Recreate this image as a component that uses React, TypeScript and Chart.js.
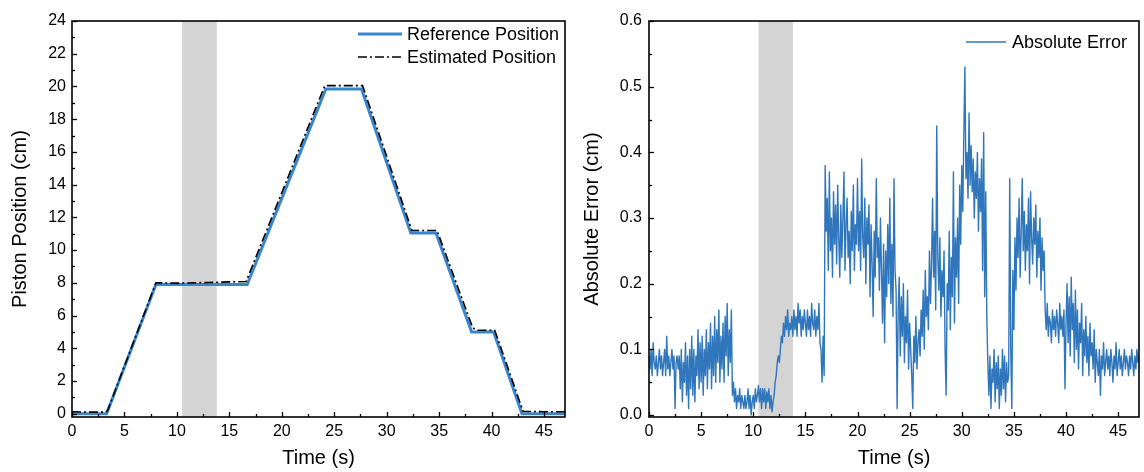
import React, { useEffect, useRef } from "react";
import { Chart, registerables } from "chart.js";

Chart.register(...registerables);

// ---------- Data ----------
const refTime = [0, 3.3, 8.0, 16.7, 24.2, 27.6, 32.3, 34.7, 38.1, 40.2, 42.9, 47];
const refPos = [0, 0, 7.9, 7.9, 19.85, 19.85, 11.05, 11.05, 5.0, 5.0, 0, 0];

const estTime = [0, 1.5, 3.2, 3.4, 8.0, 10.0, 13.0, 16.6, 24.1, 26.0, 27.7, 32.4, 34.8, 38.2, 38.6, 40.3, 43.0, 45.0, 47];
const estPos = [0.12, 0.1, 0.1, 0.2, 8.0, 7.98, 8.02, 8.08, 20.05, 20.05, 20.05, 11.2, 11.2, 5.25, 5.1, 5.1, 0.15, 0.12, 0.12];

const errorSampleInterval = 0.1; // s
const absError = [
  0.09, 0.07, 0.10, 0.06, 0.11, 0.08, 0.07, 0.09, 0.06, 0.08,
  0.10, 0.07, 0.09, 0.06, 0.08, 0.10, 0.06, 0.12, 0.07, 0.09,
  0.06, 0.08, 0.10, 0.07, 0.09, 0.01, 0.08, 0.09, 0.07, 0.09,
  0.04, 0.10, 0.02, 0.08, 0.05, 0.11, 0.03, 0.09, 0.01, 0.10,
  0.04, 0.12, 0.03, 0.10, 0.02, 0.09, 0.06, 0.13, 0.04, 0.11,
  0.05, 0.12, 0.03, 0.10, 0.06, 0.13, 0.04, 0.11, 0.07, 0.14,
  0.04, 0.12, 0.06, 0.15, 0.05, 0.13, 0.08, 0.16, 0.05, 0.12,
  0.07, 0.14, 0.05, 0.15, 0.09, 0.17, 0.06, 0.13, 0.08, 0.16,
  0.03, 0.05, 0.02, 0.04, 0.01, 0.03, 0.02, 0.04, 0.01, 0.03,
  0.02, 0.01, 0.03, 0.01, 0.02, 0.04, 0.01, 0.03, 0.00, 0.02,
  0.03, 0.01, 0.04, 0.02, 0.03, 0.045, 0.02, 0.04, 0.01, 0.04,
  0.02, 0.04, 0.01, 0.035, 0.02, 0.04, 0.01, 0.03, 0.005, 0.02,
  0.03, 0.05, 0.06, 0.08, 0.09, 0.08, 0.10, 0.12, 0.11, 0.14,
  0.12, 0.15, 0.13, 0.16, 0.12, 0.14, 0.13, 0.15, 0.12, 0.16,
  0.13, 0.15, 0.12, 0.17, 0.14, 0.16, 0.12, 0.15, 0.13, 0.16,
  0.14, 0.12, 0.16, 0.13, 0.15, 0.12, 0.17, 0.14, 0.13, 0.16,
  0.12, 0.15, 0.13, 0.17, 0.11, 0.10, 0.05, 0.12, 0.06, 0.38,
  0.28, 0.33, 0.22, 0.37, 0.25, 0.30, 0.21, 0.34, 0.26, 0.32,
  0.23, 0.35, 0.27, 0.21, 0.32, 0.24, 0.30, 0.37, 0.22, 0.29,
  0.33, 0.24, 0.28, 0.20, 0.31, 0.25, 0.35, 0.22, 0.29, 0.26,
  0.36, 0.25, 0.31, 0.22, 0.39, 0.27, 0.24, 0.33, 0.20, 0.30,
  0.26, 0.32, 0.18, 0.29, 0.23, 0.15, 0.28, 0.21, 0.36, 0.24,
  0.27, 0.19, 0.30, 0.22, 0.14, 0.26, 0.11, 0.25, 0.18, 0.29,
  0.20, 0.33, 0.17, 0.26, 0.15, 0.36, 0.22, 0.19, 0.01, 0.16,
  0.21, 0.09, 0.18, 0.12, 0.20, 0.08, 0.15, 0.11, 0.19, 0.07,
  0.14, 0.10, 0.06, 0.01, 0.12, 0.08, 0.15, 0.07, 0.11, 0.13,
  0.09, 0.16, 0.12, 0.19, 0.10, 0.22, 0.15, 0.18, 0.13, 0.25,
  0.17, 0.23, 0.33, 0.21, 0.28, 0.16, 0.44, 0.24, 0.19, 0.27,
  0.15, 0.22, 0.18, 0.25, 0.10, 0.03, 0.20, 0.16, 0.28, 0.13,
  0.24, 0.18, 0.37, 0.14, 0.27, 0.21, 0.30, 0.17, 0.35, 0.26,
  0.38, 0.31, 0.43, 0.53, 0.36, 0.40, 0.33, 0.46, 0.35, 0.41,
  0.34, 0.39, 0.30, 0.37, 0.33, 0.40, 0.28, 0.36, 0.31, 0.39,
  0.22, 0.43, 0.18, 0.34, 0.15, 0.08, 0.03, 0.09, 0.01, 0.07,
  0.05, 0.10, 0.02, 0.08, 0.04, 0.09, 0.01, 0.07, 0.03, 0.10,
  0.04, 0.09, 0.02, 0.08, 0.05, 0.06, 0.36, 0.10, 0.01, 0.22,
  0.13, 0.27, 0.19, 0.30, 0.24, 0.33, 0.21, 0.28, 0.36, 0.25,
  0.31, 0.22, 0.29, 0.25, 0.33, 0.20, 0.34, 0.27, 0.23, 0.30,
  0.26, 0.32, 0.21, 0.28, 0.24, 0.30, 0.19, 0.27, 0.22, 0.25,
  0.16, 0.13, 0.17, 0.12, 0.15, 0.14, 0.11, 0.16, 0.13, 0.15,
  0.12, 0.16, 0.14, 0.11, 0.17, 0.13, 0.15, 0.12, 0.16, 0.04,
  0.14, 0.20, 0.11, 0.18, 0.09, 0.21, 0.13, 0.17, 0.08, 0.19,
  0.10, 0.16, 0.07, 0.14, 0.11, 0.17, 0.06, 0.13, 0.09, 0.15,
  0.08, 0.12, 0.06, 0.14, 0.09, 0.11, 0.07, 0.13, 0.05, 0.10,
  0.08, 0.06, 0.10, 0.03, 0.09, 0.07, 0.11, 0.06, 0.08, 0.10,
  0.07, 0.09, 0.06, 0.10, 0.08, 0.05, 0.09, 0.07, 0.11, 0.06,
  0.08, 0.10, 0.07, 0.09, 0.06, 0.08, 0.10, 0.07, 0.09, 0.08,
  0.06, 0.09, 0.07, 0.10, 0.08, 0.06, 0.09, 0.07, 0.10, 0.08,
  0.09,
];

const shadeStart = 10.5;
const shadeEnd = 13.8;

const timeTicks = [0, 5, 10, 15, 20, 25, 30, 35, 40, 45];
const timeMinorTicks = [2.5, 7.5, 12.5, 17.5, 22.5, 27.5, 32.5, 37.5, 42.5];
const posTicks = [0, 2, 4, 6, 8, 10, 12, 14, 16, 18, 20, 22, 24];
const posMinorTicks = [1, 3, 5, 7, 9, 11, 13, 15, 17, 19, 21, 23];
const errTicks = [0, 0.1, 0.2, 0.3, 0.4, 0.5, 0.6];
const errMinorTicks = [0.05, 0.15, 0.25, 0.35, 0.45, 0.55];

// ---------- Styling ----------
const FONT = '"Liberation Sans", Arial, sans-serif';
const REF_BLUE = "#3a86cc";
const ERR_BLUE = "#2f76bd";

const shadePlugin = {
  id: "shade",
  beforeDatasetsDraw(chart: any, _args: any, opts: any) {
    const { ctx, chartArea, scales } = chart;
    const x1 = scales.x.getPixelForValue(opts.from);
    const x2 = scales.x.getPixelForValue(opts.to);
    ctx.save();
    ctx.fillStyle = "#d4d4d4";
    ctx.fillRect(x1, chartArea.top, x2 - x1, chartArea.bottom - chartArea.top);
    ctx.restore();
  },
};

const frameTicksPlugin = {
  id: "frameTicks",
  afterDraw(chart: any, _args: any, opts: any) {
    const { ctx, chartArea, scales } = chart;
    const { left, right, top, bottom } = chartArea;
    ctx.save();
    ctx.strokeStyle = "#000";
    ctx.lineWidth = 1.3;
    const drawX = (vals: number[], len: number) => {
      vals.forEach((v) => {
        const px = Math.round(scales.x.getPixelForValue(v)) + 0.5;
        if (px < left || px > right) return;
        ctx.beginPath();
        ctx.moveTo(px, bottom);
        ctx.lineTo(px, bottom - len);
        ctx.stroke();
      });
    };
    const drawY = (vals: number[], len: number) => {
      vals.forEach((v) => {
        const py = Math.round(scales.y.getPixelForValue(v)) + 0.5;
        if (py < top - 1 || py > bottom + 1) return;
        ctx.beginPath();
        ctx.moveTo(left, py);
        ctx.lineTo(left + len, py);
        ctx.stroke();
      });
    };
    drawX(opts.xMajor, 5);
    drawX(opts.xMinor, 3);
    drawY(opts.yMajor, 5);
    drawY(opts.yMinor, 3);
    ctx.lineWidth = 1.6;
    ctx.strokeRect(left, top, right - left, bottom - top);
    ctx.restore();
  },
};

const insetLegendPlugin = {
  id: "insetLegend",
  afterDraw(chart: any, _args: any, opts: any) {
    const { ctx, chartArea } = chart;
    ctx.save();
    ctx.font = `18px ${FONT}`;
    ctx.textBaseline = "middle";
    ctx.textAlign = "left";
    chart.data.datasets.forEach((ds: any, i: number) => {
      const y = chartArea.top + opts.rowTop + i * opts.rowGap;
      const x0 = chartArea.right - opts.fromRight;
      ctx.strokeStyle = ds.borderColor;
      ctx.lineWidth = ds.borderWidth;
      ctx.setLineDash(ds.borderDash || []);
      ctx.beginPath();
      ctx.moveTo(x0, y);
      ctx.lineTo(x0 + opts.sampleLen, y);
      ctx.stroke();
      ctx.setLineDash([]);
      ctx.fillStyle = "#000";
      ctx.fillText(ds.label, x0 + opts.sampleLen + opts.gap, y + 1);
    });
    ctx.restore();
  },
};

function axisCommon(ticksArr: number[], fmt: (v: number) => string) {
  return {
    type: "linear" as const,
    afterBuildTicks: (s: any) => {
      s.ticks = ticksArr.map((v) => ({ value: v }));
    },
    grid: { display: false, drawTicks: false },
    border: { display: false },
    ticks: {
      color: "#000",
      font: { family: FONT, size: 16 },
      autoSkip: false,
      maxRotation: 0,
      callback: (v: any) => fmt(Number(v)),
    },
  };
}

function makeConfig(opts: {
  datasets: any[];
  yMin: number;
  yMax: number;
  yTicks: number[];
  yMinor: number[];
  yFmt: (v: number) => string;
  yTitle: string;
  yWidth: number;
  yTitlePad: number;
  yLabelPad: number;
  rightPad: number;
  legend: any;
}) {
  return {
    type: "line" as const,
    data: { datasets: opts.datasets },
    plugins: [shadePlugin, frameTicksPlugin, insetLegendPlugin],
    options: {
      animation: false as const,
      responsive: false,
      events: [],
      layout: { padding: { top: 21, right: opts.rightPad, left: 0, bottom: 0 } },
      plugins: {
        legend: { display: false },
        tooltip: { enabled: false },
        shade: { from: shadeStart, to: shadeEnd },
        frameTicks: { xMajor: timeTicks, xMinor: timeMinorTicks, yMajor: opts.yTicks, yMinor: opts.yMinor },
        insetLegend: opts.legend,
      },
      elements: { point: { radius: 0 }, line: { tension: 0 } },
      scales: {
        x: {
          ...axisCommon(timeTicks, (v) => String(v)),
          min: 0,
          max: 47,
          afterFit: (s: any) => {
            s.height = 55;
          },
          ticks: {
            ...axisCommon(timeTicks, (v) => String(v)).ticks,
            padding: 5,
          },
          title: {
            display: true,
            text: "Time (s)",
            color: "#000",
            font: { family: FONT, size: 20 },
            padding: { top: 0, bottom: 2 },
          },
        },
        y: {
          ...axisCommon(opts.yTicks, opts.yFmt),
          min: opts.yMin,
          max: opts.yMax,
          afterFit: (s: any) => {
            s.width = opts.yWidth;
          },
          ticks: {
            ...axisCommon(opts.yTicks, opts.yFmt).ticks,
            padding: opts.yLabelPad,
          },
          title: {
            display: true,
            text: opts.yTitle,
            color: "#000",
            font: { family: FONT, size: 20 },
            padding: { top: opts.yTitlePad, bottom: 0 },
          },
        },
      },
    },
  };
}

function PositionChart() {
  const ref = useRef<HTMLCanvasElement | null>(null);
  useEffect(() => {
    if (!ref.current) return;
    const cfg: any = makeConfig({
      datasets: [
        {
          label: "Reference Position",
          data: refTime.map((t, i) => ({ x: t, y: refPos[i] })),
          borderColor: REF_BLUE,
          borderWidth: 3,
          pointRadius: 0,
          order: 1,
        },
        {
          label: "Estimated Position",
          data: estTime.map((t, i) => ({ x: t, y: estPos[i] })),
          borderColor: "#000",
          borderWidth: 1.6,
          borderDash: [9, 3, 2, 3],
          pointRadius: 0,
          order: 0,
        },
      ],
      yMin: -0.2,
      yMax: 24,
      yTicks: posTicks,
      yMinor: posMinorTicks,
      yFmt: (v) => String(v),
      yTitle: "Piston Position (cm)",
      yWidth: 72,
      yTitlePad: 8,
      yLabelPad: 6,
      rightPad: 15,
      legend: { rowTop: 13, rowGap: 23, fromRight: 207, sampleLen: 44, gap: 5 },
    });
    const chart = new Chart(ref.current, cfg);
    return () => chart.destroy();
  }, []);
  return <canvas ref={ref} width={580} height={472} style={{ display: "block" }} />;
}

function ErrorChart() {
  const ref = useRef<HTMLCanvasElement | null>(null);
  useEffect(() => {
    if (!ref.current) return;
    const cfg: any = makeConfig({
      datasets: [
        {
          label: "Absolute Error",
          data: absError.map((v, i) => ({ x: i * errorSampleInterval, y: v })),
          borderColor: ERR_BLUE,
          borderWidth: 1.4,
          borderJoinStyle: "round",
          pointRadius: 0,
        },
      ],
      yMin: -0.003,
      yMax: 0.6,
      yTicks: errTicks,
      yMinor: errMinorTicks,
      yFmt: (v) => v.toFixed(1),
      yTitle: "Absolute Error (cm)",
      yWidth: 69,
      yTitlePad: 0,
      yLabelPad: 7,
      rightPad: 5,
      legend: { rowTop: 21, rowGap: 23, fromRight: 173, sampleLen: 40, gap: 6 },
    });
    const chart = new Chart(ref.current, cfg);
    return () => chart.destroy();
  }, []);
  return <canvas ref={ref} width={564} height={472} style={{ display: "block" }} />;
}

export default function App() {
  return (
    <div
      style={{
        position: "absolute",
        left: 0,
        top: 0,
        width: 1144,
        height: 472,
        background: "#fff",
        display: "flex",
        flexDirection: "row",
      }}
    >
      <PositionChart />
      <ErrorChart />
    </div>
  );
}
